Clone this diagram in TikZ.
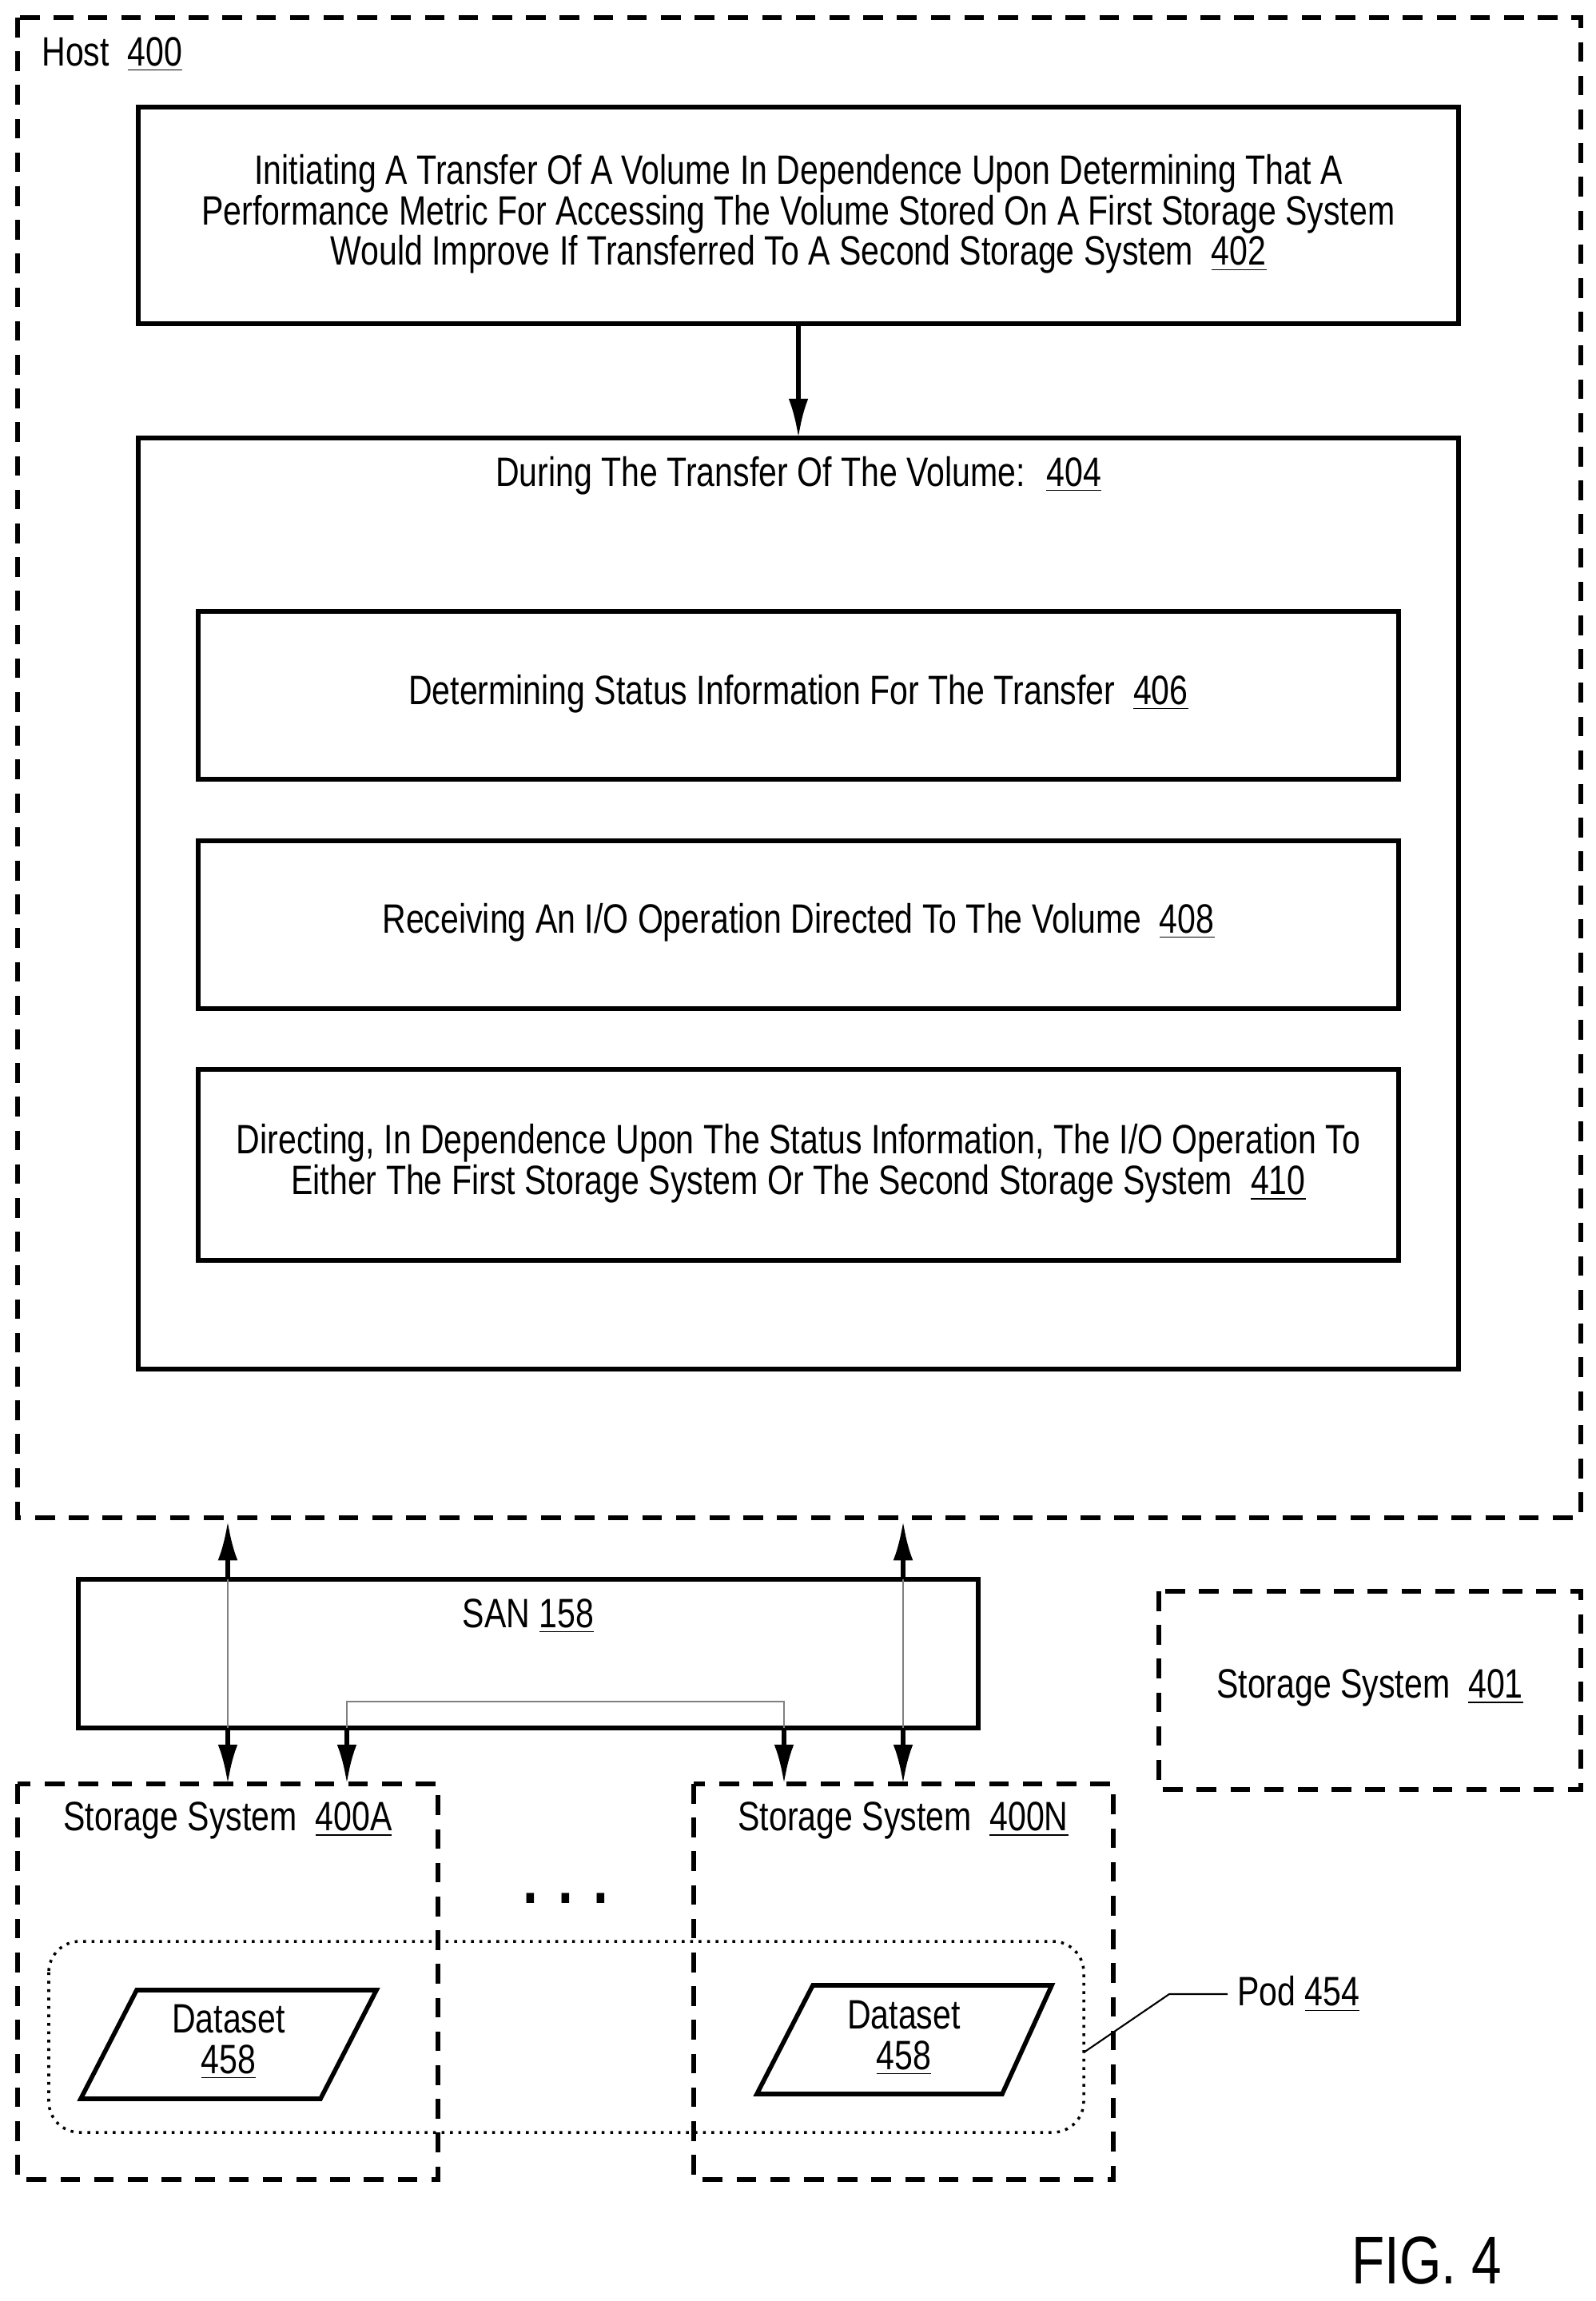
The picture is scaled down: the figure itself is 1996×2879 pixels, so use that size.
\documentclass[tikz,border=0pt]{standalone}
\usepackage{fontspec}
\setmainfont[FakeStretch=0.8]{Liberation Sans}
\usetikzlibrary{shapes.geometric,arrows.meta}
\newcommand{\ul}[1]{\underline{#1}}

\begin{document}
\begin{tikzpicture}[x=0.01cm,y=-0.01cm,font=\fontsize{14.6}{14.4}\selectfont,
    box/.style={draw,line width=1.6pt},
    dbox/.style={draw,line width=1.6pt,dash pattern=on 7pt off 5pt},
    arr/.style={-{Latex[length=14pt,width=7pt]},line width=1.6pt},
    link/.style={draw=gray,line width=0.5pt}]
    \useasboundingbox (0,0) rectangle (1996,2879);
    % host
    \draw[dbox] (22,22) rectangle (1978,1899);
    \node[anchor=west] (host) at (40,68) {Host \ \ul{400}};
    \draw[box] (173,134) rectangle (1825,405);
    \node[align=center] (s402) at (999,268) {Initiating A Transfer Of A Volume In Dependence Upon Determining That A\\Performance Metric For Accessing The Volume Stored On A First Storage System\\Would Improve If Transferred To A Second Storage System \ \ul{402}};
    \draw[box] (173,548) rectangle (1825,1713);
    \node (s404) at (999,595) {During The Transfer Of The Volume: \ \ul{404}};
    \coordinate (b402) at (999,405);
    \coordinate (t404) at (999,548);
    \draw[arr] (b402) -- (t404);
    \draw[box] (248,765) rectangle (1750,975);
    \node (s406) at (999,868) {Determining Status Information For The Transfer \ \ul{406}};
    \draw[box] (248,1052) rectangle (1750,1262);
    \node (s408) at (999,1154) {Receiving An I/O Operation Directed To The Volume \ \ul{408}};
    \draw[box] (248,1338) rectangle (1750,1577);
    \node[align=center] (s410) at (999,1456) {Directing, In Dependence Upon The Status Information, The I/O Operation To\\Either The First Storage System Or The Second Storage System \ \ul{410}};
    % san and storage
    \draw[box] (98,1976) rectangle (1224,2162);
    \node (san) at (661,2022) {SAN \ul{158}};
    \draw[dbox] (1450,1991) rectangle (1978,2239);
    \node (ss401) at (1714,2112) {Storage System \ \ul{401}};
    \draw[dbox] (22,2232) rectangle (548,2727);
    \node (ssA) at (285,2278) {Storage System \ \ul{400A}};
    \draw[dbox] (868,2232) rectangle (1393,2727);
    \node (ssN) at (1130,2278) {Storage System \ \ul{400N}};
    \node[font=\fontsize{24}{24}\bfseries\selectfont] (dots) at (708,2375) {. . .};
    % links
    \foreach \x in {285,1130} {
        \draw[link] (\x,1910) -- (\x,2220);
        \draw[arr] (\x,1976) -- (\x,1903);
        \draw[arr] (\x,2162) -- (\x,2232);
    }
    \draw[link] (434,2170) -- (434,2129) -- (981,2129) -- (981,2170);
    \draw[arr] (434,2162) -- (434,2232);
    \draw[arr] (981,2162) -- (981,2232);
    % pod
    \draw[dotted,line width=1pt,rounded corners=11pt] (61,2429) rectangle (1356,2668);
    \draw[box] (171,2490) -- (471,2490) -- (401,2626) -- (101,2626) -- cycle;
    \node[align=center] (dsA) at (286,2555) {Dataset\\\ul{458}};
    \draw[box] (1017,2484) -- (1316,2484) -- (1254,2620) -- (947,2620) -- cycle;
    \node[align=center] (dsN) at (1131,2550) {Dataset\\\ul{458}};
    \node[anchor=west] (pod) at (1536,2495) {Pod \ul{454}};
    \draw[line width=0.6pt] (1356,2568) -- (1463,2495) -- (pod.west);
    \node[font=\fontsize{24}{24}\selectfont] (fig) at (1785,2828) {FIG. 4};
\end{tikzpicture}
\end{document}
